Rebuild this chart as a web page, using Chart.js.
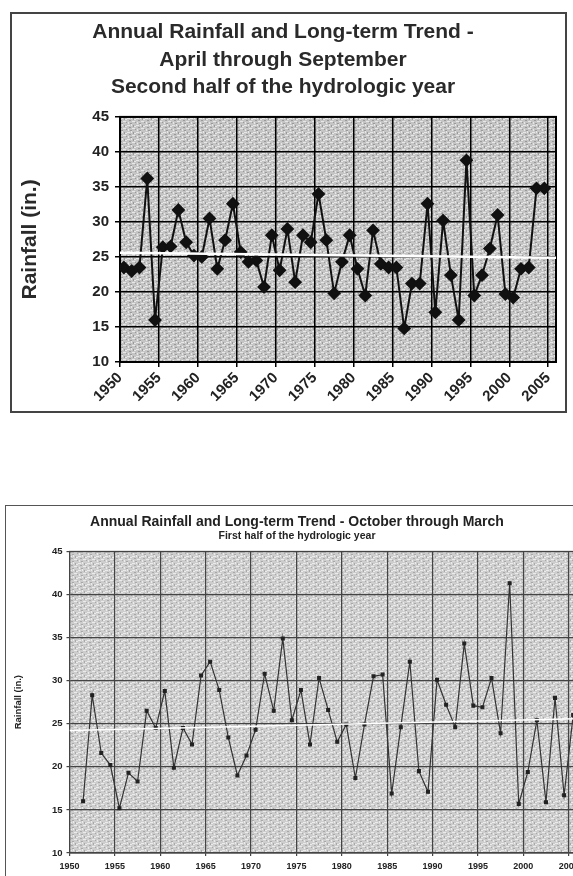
<!DOCTYPE html>
<html>
<head>
<meta charset="utf-8">
<script src="https://cdn.jsdelivr.net/npm/chart.js@4"></script>
<style>
  html, body { margin:0; padding:0; background:#fff; width:573px; height:876px; overflow:hidden; position:relative; }
  .box { position:absolute; box-sizing:border-box; }
  #box1 { left:10px; top:12px; width:557px; height:401px; border:2px solid #444; }
  #box2 { left:5px; top:505px; width:620px; height:420px; border:1px solid #555; }
  canvas { position:absolute; }
  #c1 { left:10px; top:12px; }
  #c2 { left:6px; top:506px; }
</style>
</head>
<body>
<div class="box" id="box1"></div>
<div class="box" id="box2"></div>
<canvas id="c1" width="556" height="400"></canvas>
<canvas id="c2" width="586" height="370"></canvas>
<script>
// ---------- DATA: April through September (second half) ----------
const topYears = [1950,1951,1952,1953,1954,1955,1956,1957,1958,1959,
                  1960,1961,1962,1963,1964,1965,1966,1967,1968,1969,
                  1970,1971,1972,1973,1974,1975,1976,1977,1978,1979,
                  1980,1981,1982,1983,1984,1985,1986,1987,1988,1989,
                  1990,1991,1992,1993,1994,1995,1996,1997,1998,1999,
                  2000,2001,2002,2003,2004];
const topRain  = [23.5,23.0,23.5,36.2,16.0,26.4,26.5,31.7,27.1,25.2,
                  25.0,30.5,23.3,27.4,32.6,25.7,24.3,24.5,20.7,28.1,
                  23.1,29.0,21.4,28.1,27.1,34.0,27.4,19.8,24.3,28.1,
                  23.3,19.5,28.8,24.0,23.5,23.5,14.8,21.2,21.2,32.6,
                  17.1,30.2,22.4,16.0,38.8,19.5,22.4,26.2,31.0,19.7,
                  19.2,23.3,23.5,34.8,34.8];
const topTrendYears = [1950, 2006];
const topTrend      = [25.6, 24.9];
const topXTicks = [1950,1955,1960,1965,1970,1975,1980,1985,1990,1995,2000,2005];

// ---------- DATA: October through March (first half) ----------
const botYears = [1951,1952,1953,1954,1955,1956,1957,1958,1959,1960,
                  1961,1962,1963,1964,1965,1966,1967,1968,1969,1970,
                  1971,1972,1973,1974,1975,1976,1977,1978,1979,1980,
                  1981,1982,1983,1984,1985,1986,1987,1988,1989,1990,
                  1991,1992,1993,1994,1995,1996,1997,1998,1999,2000,
                  2001,2002,2003,2004,2005];
const botRain  = [16.0,28.3,21.6,20.2,15.2,19.3,18.3,26.5,24.5,28.8,
                  19.9,24.5,22.6,30.6,32.2,28.9,23.4,19.0,21.3,24.3,
                  30.8,26.5,34.9,25.4,28.9,22.6,30.3,26.6,22.9,24.9,
                  18.7,24.9,30.5,30.7,16.9,24.6,32.2,19.5,17.1,30.1,
                  27.2,24.6,34.3,27.1,26.9,30.3,23.9,41.3,15.7,19.4,
                  25.4,15.9,28.0,16.7,26.0];
const botTrendYears = [1950, 2007];
const botTrend      = [24.2, 25.6];
const botXTicks = [1950,1955,1960,1965,1970,1975,1980,1985,1990,1995,2000,2005];

const yTicks = [10,15,20,25,30,35,40,45];

// ---------- helpers ----------
const FONT = '"Liberation Sans", Arial, sans-serif';
const CAT_CENTER = 0.5; // points sit in the middle of each year's category

function makePattern(ctx, base, lightA, darkA) {
  const c = document.createElement('canvas');
  c.width = 9; c.height = 7;
  const g = c.getContext('2d');
  g.fillStyle = base; g.fillRect(0, 0, 9, 7);
  g.fillStyle = 'rgba(255,255,255,' + lightA + ')';
  g.fillRect(0, 1, 3, 1); g.fillRect(5, 4, 3, 1); g.fillRect(4, 0, 1, 2); g.fillRect(1, 5, 1, 2); g.fillRect(7, 2, 2, 1);
  g.fillStyle = 'rgba(0,0,0,' + darkA + ')';
  g.fillRect(2, 3, 2, 1); g.fillRect(6, 1, 1, 2); g.fillRect(8, 5, 1, 1); g.fillRect(3, 6, 2, 1);
  return ctx.createPattern(c, 'repeat');
}

const plotBg = {
  id: 'plotBg',
  beforeDraw(chart, args, opts) {
    const { ctx, chartArea: a } = chart;
    ctx.save();
    ctx.fillStyle = makePattern(ctx, opts.base, opts.light, opts.dark);
    ctx.fillRect(a.left, a.top, a.right - a.left, a.bottom - a.top);
    ctx.restore();
  },
  beforeDatasetsDraw(chart, args, opts) {
    const { ctx, chartArea: a } = chart;
    ctx.save();
    ctx.strokeStyle = opts.border;
    ctx.lineWidth = opts.borderWidth;
    ctx.strokeRect(a.left, a.top, a.right - a.left, a.bottom - a.top);
    ctx.restore();
  }
};

const pts = (xs, ys, off) => xs.map((x, i) => ({ x: x + off, y: ys[i] }));

// ---------- Chart 1 ----------
new Chart(document.getElementById('c1'), {
  type: 'line',
  data: {
    datasets: [
      { label: 'Long-term trend', data: pts(topTrendYears, topTrend, 0),
        borderColor: '#ffffff', borderWidth: 2.5, pointRadius: 0, order: 0 },
      { label: 'Rainfall', data: pts(topYears, topRain, CAT_CENTER),
        borderColor: '#111', borderWidth: 2, pointStyle: 'rectRot', pointRadius: 5.5,
        pointBackgroundColor: '#111', pointBorderColor: '#111', order: 1 }
    ]
  },
  options: {
    responsive: false, animation: false,
    layout: { padding: { left: 0, right: 10, top: 0, bottom: 0 } },
    plugins: {
      legend: { display: false }, tooltip: { enabled: false },
      title: { display: true, color: '#2a2a2a',
        text: ['Annual Rainfall and Long-term Trend -', 'April through September', 'Second half of the hydrologic year'],
        font: { family: FONT, size: 21, weight: 'bold', lineHeight: 1.3 },
        padding: { top: 7, bottom: 16 } },
      plotBg: { base: '#c4c4c4', light: 0.6, dark: 0.22, border: '#000', borderWidth: 2 }
    },
    scales: {
      x: { type: 'linear', min: 1950, max: 2006,
        afterBuildTicks: s => { s.ticks = topXTicks.map(v => ({ value: v })); },
        ticks: { callback: v => String(v), minRotation: 45, maxRotation: 45, color: '#222', padding: 2,
          font: { family: FONT, size: 15, weight: 'bold' } },
        grid: { color: '#000', lineWidth: 1.5, tickLength: 5 },
        border: { color: '#000', width: 2 },
        afterFit: s => { s.height = 50; } },
      y: { min: 10, max: 45,
        afterBuildTicks: s => { s.ticks = yTicks.map(v => ({ value: v })); },
        ticks: { callback: v => String(v), color: '#222', padding: 6,
          font: { family: FONT, size: 15, weight: 'bold' } },
        grid: { color: '#000', lineWidth: 1.5, tickLength: 5 },
        border: { color: '#000', width: 2 },
        title: { display: true, text: 'Rainfall (in.)', color: '#2a2a2a',
          font: { family: FONT, size: 21, weight: 'bold', lineHeight: 1.2 }, padding: { top: 8, bottom: 0 } },
        afterFit: s => { s.width = 110; } }
    }
  },
  plugins: [plotBg]
});

// ---------- Chart 2 ----------
new Chart(document.getElementById('c2'), {
  type: 'line',
  data: {
    datasets: [
      { label: 'Long-term trend', data: pts(botTrendYears, botTrend, 0),
        borderColor: '#ffffff', borderWidth: 1.5, pointRadius: 0, order: 0 },
      { label: 'Rainfall', data: pts(botYears, botRain, CAT_CENTER),
        borderColor: '#333', borderWidth: 1.2, pointStyle: 'rect', pointRadius: 2,
        pointBackgroundColor: '#222', pointBorderColor: '#222', order: 1 }
    ]
  },
  options: {
    responsive: false, animation: false,
    layout: { padding: { left: 0, right: 4, top: 0, bottom: 0 } },
    plugins: {
      legend: { display: false }, tooltip: { enabled: false },
      title: { display: true, color: '#222',
        text: 'Annual Rainfall and Long-term Trend - October through March',
        font: { family: FONT, size: 14, weight: 'bold', lineHeight: 1.2 },
        padding: { top: 8, bottom: 0 } },
      subtitle: { display: true, color: '#222',
        text: 'First half of the hydrologic year',
        font: { family: FONT, size: 10.5, weight: 'bold', lineHeight: 1.1 },
        padding: { top: 0, bottom: 9 } },
      plotBg: { base: '#cdcdcd', light: 0.6, dark: 0.18, border: '#444', borderWidth: 1 }
    },
    scales: {
      x: { type: 'linear', min: 1950, max: 2007,
        afterBuildTicks: s => { s.ticks = botXTicks.map(v => ({ value: v })); },
        ticks: { callback: v => String(v), minRotation: 0, maxRotation: 0, color: '#222', padding: 5,
          font: { family: FONT, size: 9, weight: 'bold' } },
        grid: { color: '#444', lineWidth: 1.2, tickLength: 3 },
        border: { color: '#444', width: 1.2 },
        afterFit: s => { s.height = 23; } },
      y: { min: 10, max: 45,
        afterBuildTicks: s => { s.ticks = yTicks.map(v => ({ value: v })); },
        ticks: { callback: v => String(v), color: '#222', padding: 4,
          font: { family: FONT, size: 9.5, weight: 'bold' } },
        grid: { color: '#444', lineWidth: 1.2, tickLength: 3 },
        border: { color: '#444', width: 1.2 },
        title: { display: true, text: 'Rainfall (in.)', color: '#222',
          font: { family: FONT, size: 9.5, weight: 'bold', lineHeight: 1.2 }, padding: { top: 7, bottom: 0 } },
        afterFit: s => { s.width = 63.5; } }
    }
  },
  plugins: [plotBg]
});
</script>
</body>
</html>
